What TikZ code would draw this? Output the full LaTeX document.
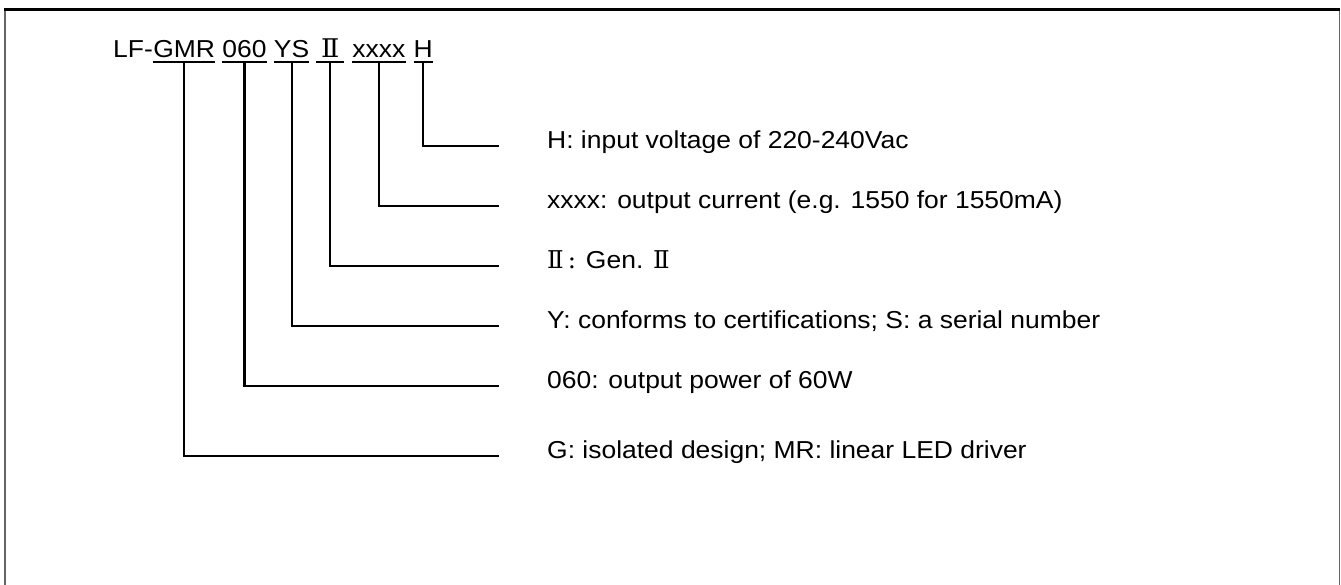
\documentclass[tikz,border=0pt]{standalone}
\usepackage{fontspec}
\setmainfont{Liberation Sans}[FakeStretch=1.08]
\newfontfamily\romfont{DejaVu Serif}
\begin{document}
\begin{tikzpicture}[x=1pt,y=-1pt,
  font=\fontsize{24.5}{29}\selectfont,
  word/.style={inner sep=0pt, anchor=base west},
  label/.style={inner sep=0pt, anchor=mid west},
  conn/.style={line width=2.2pt, line cap=rect},
  uline/.style={line width=1.5pt},
  frameline/.style={line width=1.2pt, draw=black!60}]
\useasboundingbox (0,0) rectangle (1341,585);
% frame
\draw[frameline] (5,9) -- (5,585);
\draw[frameline] (1339.5,9) -- (1339.5,585);
\draw[line width=3pt] (4.4,9.5) -- (1340.1,9.5);
% title
\node[word] (lf) at (113,58) {LF-};
\node[word] (gmr) at (lf.base east) {GMR};
\node[word] (p060) at ([xshift=7pt]gmr.base east) {060};
\node[word] (ys) at ([xshift=7pt]p060.base east) {YS};
\node[word, inner xsep=4.5pt] (gen) at ([xshift=7pt]ys.base east) {\scalebox{1.1}[1.05]{\romfont Ⅱ}};
\node[word] (xxxx) at ([xshift=8pt]gen.base east) {xxxx};
\node[word] (h) at ([xshift=8pt]xxxx.base east) {H};
\foreach \n in {gmr,p060,ys,gen,xxxx,h}{
  \draw[uline] ([yshift=-4pt]\n.base west) -- ([yshift=-4pt]\n.base east);
}
% end points
\coordinate (e1) at (498,146);
\coordinate (e2) at (498,206);
\coordinate (e3) at (498,266);
\coordinate (e4) at (498,326);
\coordinate (e5) at (498,386);
\coordinate (e6) at (498,456);
% labels
\node[label] (l1) at (547,146) {H: input voltage of 220-240Vac};
\node[label] (l2) at (547,206) {xxxx: output current (e.g. 1550 for 1550mA)};
\node[label] (l3) at (547,266) {{\romfont Ⅱ\,:} Gen. {\romfont Ⅱ}};
\node[label] (l4) at (547,326) {Y: conforms to certifications; S: a serial number};
\node[label] (l5) at (547,386) {060: output power of 60W};
\node[label] (l6) at (547,456) {G: isolated design; MR: linear LED driver};
% connectors
\draw[conn] ([yshift=-4pt]h.base) |- (e1);
\draw[conn] ([yshift=-4pt]xxxx.base) |- (e2);
\draw[conn] ([yshift=-4pt]gen.base) |- (e3);
\draw[conn] ([yshift=-4pt]ys.base) |- (e4);
\draw[conn] ([yshift=-4pt]p060.base) |- (e5);
\draw[conn] ([yshift=-4pt]gmr.base) |- (e6);
\end{tikzpicture}
\end{document}
